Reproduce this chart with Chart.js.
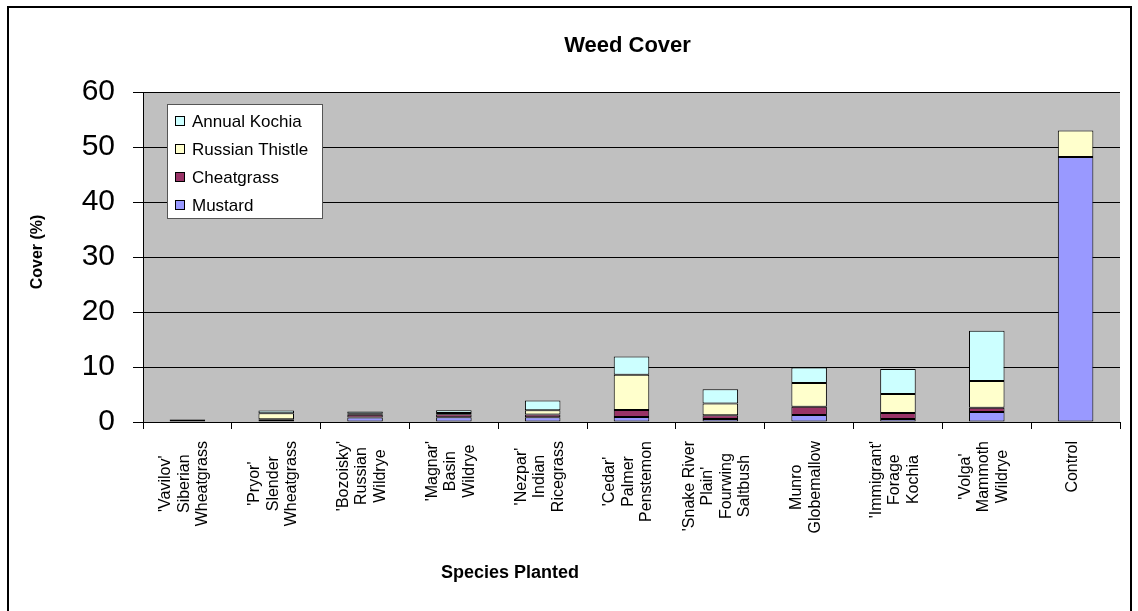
<!DOCTYPE html>
<html>
<head>
<meta charset="utf-8">
<script src="https://cdn.jsdelivr.net/npm/chart.js@4.4.1/dist/chart.umd.min.js"></script>
<style>
  html, body { margin: 0; padding: 0; background: #fff; }
  #wrap { width: 1138px; height: 611px; }
</style>
</head>
<body>
<div id="wrap"><canvas id="c" width="1138" height="611"></canvas></div>
<script>
// species (x categories), one entry per label line
const species = [
  ["'Vavilov'", "Siberian", "Wheatgrass"],
  ["'Pryor'", "Slender", "Wheatgrass"],
  ["'Bozoisky'", "Russian", "Wildrye"],
  ["'Magnar'", "Basin", "Wildrye"],
  ["'Nezpar'", "Indian", "Ricegrass"],
  ["'Cedar'", "Palmer", "Penstemon"],
  ["'Snake River", "Plain'", "Fourwing", "Saltbush"],
  ["Munro", "Globemallow"],
  ["'Immigrant'", "Forage", "Kochia"],
  ["'Volga'", "Mammoth", "Wildrye"],
  ["Control"]
];

// cover (%) by weed, stacked bottom to top
const mustard     = [0.1, 0.2, 0.8, 0.85, 0.85, 0.9, 0.55, 1.27, 0.55, 1.8, 48.2];
const cheatgrass  = [0.1, 0.3, 0.5, 0.55, 0.5, 1.3, 0.7, 1.5, 1.1, 0.8, 0];
const thistle     = [0.2, 1.1, 0.2, 0.25, 0.8, 6.4, 2.1, 4.3, 3.45, 4.85, 4.8];
const kochia      = [0.1, 0.5, 0.4, 0.5, 1.75, 3.3, 2.6, 2.85, 4.55, 9.15, 0];

const yTicks = [0, 10, 20, 30, 40, 50, 60];

const chartTitle = 'Weed Cover';
const yTitle = 'Cover (%)';
const xTitle = 'Species Planted';

const FONT = 'Arial, "Liberation Sans", sans-serif';

// excel style extras: gray plot, frame, titles, centred rotated labels, legend box
const excelLook = {
  id: 'excelLook',
  beforeDraw(chart) {
    const { ctx, chartArea: a } = chart;
    ctx.save();
    ctx.fillStyle = '#fff';
    ctx.fillRect(0, 0, chart.width, chart.height);
    ctx.fillStyle = '#c0c0c0';
    ctx.fillRect(a.left, a.top, a.right - a.left, a.bottom - a.top);
    ctx.strokeStyle = '#000';
    ctx.lineWidth = 2;
    ctx.strokeRect(8, 7, 1123, 640);
    ctx.restore();
  },
  afterDraw(chart) {
    const { ctx, chartArea: a } = chart;
    const xs = chart.scales.x;
    ctx.save();
    ctx.fillStyle = '#000';

    // chart title
    ctx.font = 'bold 22px ' + FONT;
    ctx.textAlign = 'center';
    ctx.textBaseline = 'middle';
    ctx.fillText(chartTitle, (a.left + a.right) / 2 - 4, 46);

    // y title
    ctx.save();
    ctx.translate(38, (a.top + a.bottom) / 2 - 5);
    ctx.rotate(-Math.PI / 2);
    ctx.font = 'bold 16px ' + FONT;
    ctx.fillText(yTitle, 0, 0);
    ctx.restore();

    // x title
    ctx.font = 'bold 18px ' + FONT;
    ctx.fillText(xTitle, 510, 573);

    // x labels: lines centred on each other, block hanging from the axis
    ctx.font = '16px ' + FONT;
    const lh = 18.5;
    species.forEach((lines, i) => {
      const cx = xs.getPixelForValue(i) - 3;
      const w = Math.max(...lines.map(s => ctx.measureText(s).width));
      lines.forEach((s, j) => {
        ctx.save();
        ctx.translate(cx + (j - (lines.length - 1) / 2) * lh, a.bottom + 19 + w / 2);
        ctx.rotate(-Math.PI / 2);
        ctx.fillText(s, 0, 0);
        ctx.restore();
      });
    });

    // legend
    const lx = 167, ly = 104, lw = 155, lhgt = 114;
    ctx.fillStyle = '#fff';
    ctx.fillRect(lx, ly, lw, lhgt);
    ctx.strokeStyle = '#555';
    ctx.lineWidth = 1;
    ctx.strokeRect(lx + 0.5, ly + 0.5, lw, lhgt);
    ctx.font = '17px ' + FONT;
    ctx.textAlign = 'left';
    const ds = chart.data.datasets.slice().reverse();
    ds.forEach((d, k) => {
      const y = ly + 17 + k * 28;
      ctx.fillStyle = d.backgroundColor;
      ctx.fillRect(lx + 8, y - 5, 10, 10);
      ctx.strokeStyle = '#000';
      ctx.strokeRect(lx + 8.5, y - 4.5, 9, 9);
      ctx.fillStyle = '#000';
      ctx.fillText(d.label, lx + 25, y + 1);
    });
    ctx.restore();
  }
};

const barStyle = { borderColor: '#000', borderWidth: 1, borderSkipped: false,
                   barPercentage: 0.4, categoryPercentage: 1.0 };

new Chart(document.getElementById('c'), {
  type: 'bar',
  data: {
    labels: species.map(l => l.join(' ')),
    datasets: [
      { label: 'Mustard', data: mustard, backgroundColor: '#9999ff', ...barStyle },
      { label: 'Cheatgrass', data: cheatgrass, backgroundColor: '#993366', ...barStyle },
      { label: 'Russian Thistle', data: thistle, backgroundColor: '#ffffcc', ...barStyle },
      { label: 'Annual Kochia', data: kochia, backgroundColor: '#ccffff', ...barStyle }
    ]
  },
  options: {
    responsive: false,
    devicePixelRatio: 1,
    animation: false,
    layout: { padding: { left: 0, right: 18, top: 92, bottom: 0 } },
    plugins: {
      legend: { display: false },
      title: { display: false },
      tooltip: { enabled: false }
    },
    scales: {
      x: {
        stacked: true,
        offset: true,
        grid: { offset: true, drawOnChartArea: false, drawTicks: true, tickLength: 7, color: '#000' },
        border: { color: '#000', width: 1 },
        ticks: { display: false },
        afterFit: s => { s.height = 189; }
      },
      y: {
        stacked: true,
        min: 0,
        max: 60,
        afterBuildTicks: s => { s.ticks = yTicks.map(v => ({ value: v })); },
        grid: { color: '#000', tickLength: 10 },
        border: { color: '#000', width: 1 },
        ticks: { font: { size: 30, family: FONT }, color: '#000', padding: 18 },
        afterFit: s => { s.width = 143; }
      }
    }
  },
  plugins: [excelLook]
});
</script>
</body>
</html>
